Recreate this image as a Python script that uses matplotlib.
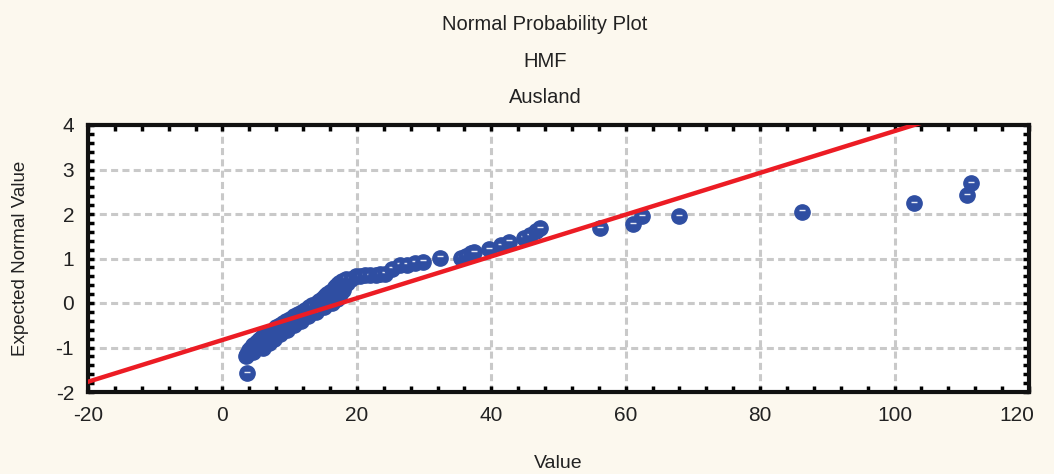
import matplotlib
matplotlib.use("Agg")
import matplotlib.pyplot as plt
from matplotlib.ticker import MultipleLocator
from matplotlib.transforms import ScaledTranslation

# ---- data (value, expected normal value) ----
values = [3.6,
          # left edge of the dense band
          3.5, 3.7, 3.9, 4.0, 4.2, 4.6, 5.0, 5.3, 5.6, 6.1, 6.6, 7.1, 7.6, 8.0, 8.5,
          9.0, 9.5, 10.1, 10.6, 11.2, 11.8, 12.3, 12.9, 13.4, 14.0, 14.4, 14.8, 15.2,
          15.6, 16.0, 16.4, 16.8, 17.1, 17.4, 17.8, 18.4,
          # right edge of the dense band
          4.6, 6.0, 6.9, 7.7, 8.6, 9.6, 10.6, 11.7, 12.7, 13.9, 15.1, 16.3, 17.0,
          17.5, 18.0, 18.5, 19.2, 19.8, 20.5, 21.2, 22.0, 22.8, 23.5, 24.2,
          # upper tail
          25.2, 26.4, 27.4, 28.6, 29.8, 32.4, 35.5, 36.2, 37.0, 37.5, 39.7, 41.5,
          42.7, 44.9, 45.7, 46.7, 47.2, 56.2, 61.1, 62.4, 67.9, 86.3, 102.9, 110.8,
          111.4]
expected = [-1.57,
            -1.20, -1.15, -1.10, -1.05, -1.00, -0.95, -0.90, -0.85, -0.80, -0.75,
            -0.70, -0.65, -0.60, -0.55, -0.50, -0.45, -0.40, -0.35, -0.30, -0.25,
            -0.20, -0.15, -0.10, -0.05, 0.00, 0.05, 0.10, 0.15, 0.20, 0.25, 0.30,
            0.35, 0.40, 0.45, 0.50, 0.55,
            -1.10, -1.00, -0.90, -0.80, -0.70, -0.60, -0.50, -0.40, -0.30, -0.20,
            -0.10, 0.00, 0.10, 0.20, 0.30, 0.45, 0.55, 0.60, 0.61, 0.62, 0.63,
            0.64, 0.65, 0.66,
            0.77, 0.86, 0.86, 0.91, 0.93, 1.02, 1.02, 1.06, 1.12, 1.14, 1.21, 1.30,
            1.38, 1.47, 1.52, 1.62, 1.68, 1.68, 1.77, 1.95, 1.95, 2.05, 2.24, 2.43,
            2.70]
line_x = [-20.0, 120.0]
fit_mean = 17.7
fit_sd = 21.3

x_ticks = [-20, 0, 20, 40, 60, 80, 100, 120]
y_ticks = [-2, -1, 0, 1, 2, 3, 4]
titles = ["Normal Probability Plot", "HMF", "Ausland"]

# ---- styling ----
plt.rcParams['font.family'] = ['Liberation Sans', 'DejaVu Sans']
plt.rcParams['axes.unicode_minus'] = False
bg = '#FCF8EE'
blue = '#2F4EA2'
red = '#EC1C24'
txt = '#222222'

fig = plt.figure(figsize=(10.54, 4.74), dpi=100, facecolor=bg)
ax = fig.add_axes([88/1054, 1-392/474, (1029-88)/1054, (392-125)/474])
ax.set_facecolor('white')

ax.set_xlim(-20, 120)
ax.set_ylim(-2, 4)
ax.set_xticks(x_ticks)
ax.set_yticks(y_ticks)
ax.xaxis.set_minor_locator(MultipleLocator(4))
ax.yaxis.set_minor_locator(MultipleLocator(0.2))
ax.tick_params(which='both', direction='in', top=True, right=True,
               length=4, width=2.5, color='black')
ax.tick_params(which='major', labelsize=15, pad=10, labelcolor=txt)

ax.grid(True, which='major', color='#C9C9C9', linewidth=2.2,
        linestyle=(0, (2.3, 1.4)))
ax.set_axisbelow(True)
for s in ax.spines.values():
    s.set_linewidth(3)
    s.set_color('#111111')

# draw each point (circle + small white dash) in rank order
pairs = sorted(zip(expected, values))
for i, (z, v) in enumerate(pairs):
    ax.plot([v], [z], linestyle='none', marker='o', markersize=11,
            markerfacecolor=blue, markeredgecolor=blue, zorder=3 + i * 0.001)
    ax.plot([v], [z + 0.03], linestyle='none', marker='_', markersize=4,
            markeredgecolor='#E8ECF6', markeredgewidth=1.0,
            zorder=3 + i * 0.001 + 0.0005)

line_y = [(v - fit_mean) / fit_sd for v in line_x]
ax.plot(line_x, line_y, color=red, linewidth=3.2, zorder=4)

ax.set_xlabel('Value', fontsize=14, labelpad=22, color=txt)
ax.set_ylabel('Expected Normal Value', fontsize=13.5, labelpad=19, color=txt)

fig.canvas.draw()
last = ax.get_xticklabels()[-1]
last.set_transform(last.get_transform() + ScaledTranslation(-12/100, 0, fig.dpi_scale_trans))

ys = [1-30/474, 1-67/474, 1-103/474]
for t, yy in zip(titles, ys):
    fig.text(545/1054, yy, t, ha='center', va='baseline', fontsize=14.5,
             color=txt)

fig.savefig('out.png', dpi=100, facecolor=bg)
